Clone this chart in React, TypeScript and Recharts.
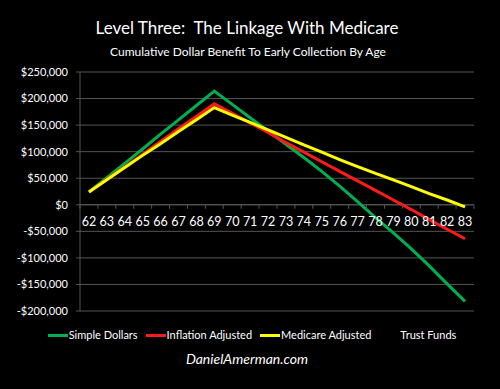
import React from 'react';
import { LineChart, Line, XAxis, YAxis, CartesianGrid, ReferenceLine, Legend } from 'recharts';

const ages = ['62','63','64','65','66','67','68','69','70','71','72','73','74','75','76','77','78','79','80','81','82','83'];
const simpleDollars = [24000, 51000, 78000, 105000, 133000, 160000, 187000, 214000, 189000, 164000, 139000, 114000, 89000, 63000, 35000, 6000, -24000, -53000, -83000, -115000, -149000, -182000];
const inflationAdjusted = [24000, 48000, 71000, 95000, 119000, 143000, 166000, 190000, 172000, 154000, 136000, 117000, 99000, 81000, 63000, 45000, 27000, 9000, -9000, -28000, -46000, -64000];
const medicareAdjusted = [24000, 47000, 70000, 93000, 115000, 138000, 160000, 183000, 169000, 155000, 141000, 127000, 113000, 99000, 85000, 72000, 59000, 47000, 34000, 21000, 9000, -4000];
const trustFunds: (number | null)[] = ages.map(() => null);
const yTicks = [-200000, -150000, -100000, -50000, 0, 50000, 100000, 150000, 200000, 250000];

const seriesNames = ['Simple Dollars', 'Inflation Adjusted', 'Medicare Adjusted', 'Trust Funds'];
const seriesColors = ['#00b050', '#ff1a1a', '#ffff00', '#000000'];

const data = ages.map((age, i) => ({
  age,
  simple: simpleDollars[i],
  inflation: inflationAdjusted[i],
  medicare: medicareAdjusted[i],
  trust: trustFunds[i],
}));

const W = 500;
const H = 389;
const PLOT_TOP = 72;
const PLOT_BOTTOM = 311;
const PLOT_LEFT = 80;
const PLOT_RIGHT = 474;
const Y_MIN = -200000;
const Y_MAX = 250000;
const ZERO_Y = PLOT_TOP + (PLOT_BOTTOM - PLOT_TOP) * (Y_MAX / (Y_MAX - Y_MIN));
const STEP = (PLOT_RIGHT - PLOT_LEFT) / ages.length;
const FONT = 'Lato, "Open Sans", sans-serif';
const GRID = '#555555';
const X_AXIS_H = 1;
const LEGEND_H = 34;

const fmt = (v: number) => {
  const s = '$' + Math.abs(v).toLocaleString('en-US');
  return v < 0 ? '-' + s : s;
};

const AgeTick = (props: any) => {
  const { x, payload, index } = props;
  const last = index === ages.length - 1;
  return (
    <g>
      <line x1={x - STEP / 2} x2={x - STEP / 2} y1={ZERO_Y} y2={ZERO_Y + 4} stroke={GRID} strokeWidth={1} />
      {last && <line x1={x + STEP / 2} x2={x + STEP / 2} y1={ZERO_Y} y2={ZERO_Y + 4} stroke={GRID} strokeWidth={1} />}
      <text x={x} y={ZERO_Y + 17} textAnchor="middle" dominantBaseline="central" fill="#ffffff" fontSize={12.5} fontFamily={FONT}>
        {payload.value}
      </text>
    </g>
  );
};

const renderLegend = (props: any) => {
  const payload = [...(props.payload || [])].sort(
    (a: any, b: any) => seriesNames.indexOf(a.value) - seriesNames.indexOf(b.value)
  );
  return (
    <div style={{ height: LEGEND_H, paddingTop: 12, boxSizing: 'border-box', display: 'flex', justifyContent: 'center', alignItems: 'center', fontFamily: FONT, fontSize: 11, color: '#ffffff', lineHeight: '20px', paddingLeft: 4 }}>
      {payload.map((entry: any, i: number) => (
        <div key={i} style={{ display: 'flex', alignItems: 'center', marginRight: i < payload.length - 1 ? 8 : 0 }}>
          <div style={{ width: 20, height: 3, background: entry.color, marginRight: 1 }} />
          <span>{entry.value}</span>
        </div>
      ))}
    </div>
  );
};

export default function App() {
  return (
    <div style={{ position: 'absolute', left: 0, top: 0, width: W, height: H, background: '#000000', overflow: 'hidden' }}>
      <div style={{ position: 'absolute', left: 0, width: W - 6, top: 18, textAlign: 'center', color: '#ffffff', fontFamily: FONT, fontSize: 17, lineHeight: 1.2, whiteSpace: 'pre' }}>
        {'Level Three:  The Linkage With Medicare'}
      </div>
      <div style={{ position: 'absolute', left: 0, width: W - 4, top: 45, textAlign: 'center', color: '#ffffff', fontFamily: FONT, fontSize: 12, lineHeight: 1.2 }}>
        Cumulative Dollar Benefit To Early Collection By Age
      </div>
      <LineChart width={W} height={H} data={data} margin={{ top: PLOT_TOP, right: W - PLOT_RIGHT, bottom: H - PLOT_BOTTOM - X_AXIS_H - LEGEND_H, left: 0 }}>
        <CartesianGrid vertical={false} stroke={GRID} strokeWidth={1} />
        <XAxis dataKey="age" height={X_AXIS_H} axisLine={false} tickLine={false} interval={0} tick={<AgeTick />} padding={{ left: STEP / 2, right: STEP / 2 }} />
        <YAxis
          width={PLOT_LEFT}
          domain={[Y_MIN, Y_MAX]}
          ticks={yTicks}
          interval={0}
          tickFormatter={fmt}
          tickSize={4}
          tickMargin={8}
          axisLine={{ stroke: GRID }}
          tickLine={{ stroke: GRID }}
          tick={{ fill: '#ffffff', fontSize: 11, fontFamily: FONT }}
        />
        <ReferenceLine y={0} stroke={GRID} strokeWidth={1} />
        <Line dataKey="simple" name={seriesNames[0]} stroke={seriesColors[0]} strokeWidth={3} dot={false} isAnimationActive={false} />
        <Line dataKey="inflation" name={seriesNames[1]} stroke={seriesColors[1]} strokeWidth={3} dot={false} isAnimationActive={false} />
        <Line dataKey="medicare" name={seriesNames[2]} stroke={seriesColors[2]} strokeWidth={3} dot={false} isAnimationActive={false} />
        <Line dataKey="trust" name={seriesNames[3]} stroke={seriesColors[3]} strokeWidth={3} dot={false} isAnimationActive={false} />
        <Legend verticalAlign="bottom" content={renderLegend} wrapperStyle={{ left: 0, width: W }} />
      </LineChart>
      <div style={{ position: 'absolute', left: 0, width: W - 6, top: 351, textAlign: 'center', color: '#ffffff', fontFamily: FONT, fontSize: 14, fontStyle: 'italic', lineHeight: 1.2 }}>
        DanielAmerman.com
      </div>
    </div>
  );
}
